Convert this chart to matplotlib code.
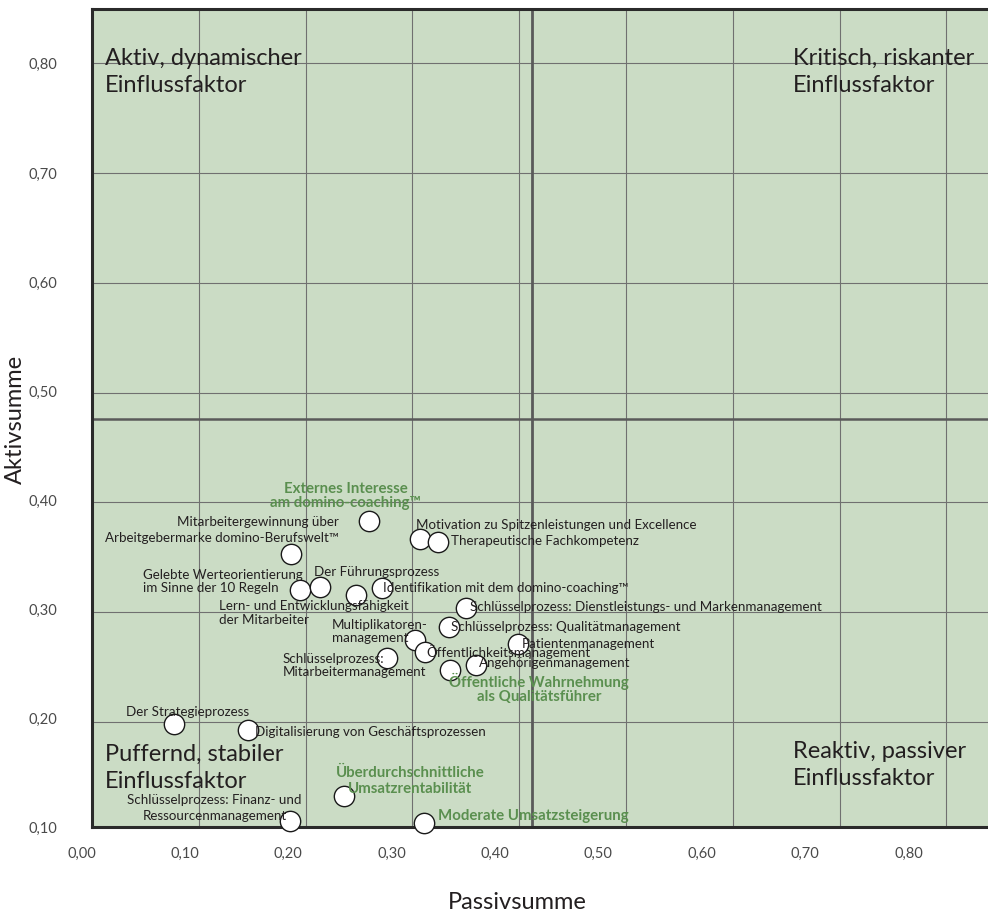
import numpy as np
import matplotlib
matplotlib.use("Agg")
import matplotlib.pyplot as plt

plt.rcParams['font.family'] = ['Lato', 'DejaVu Sans']

# ---------------- data ----------------
labels = [
    "Externes Interesse\nam domino-coaching™",
    "Mitarbeitergewinnung über\nArbeitgebermarke domino-Berufswelt™",
    "Motivation zu Spitzenleistungen und Excellence",
    "Therapeutische Fachkompetenz",
    "Gelebte Werteorientierung\nim Sinne der 10 Regeln",
    "Der Führungsprozess",
    "Identifikation mit dem domino-coaching™",
    "Lern- und Entwicklungsfähigkeit\nder Mitarbeiter",
    "Schlüsselprozess: Dienstleistungs- und Markenmanagement",
    "Schlüsselprozess: Qualitätmanagement",
    "Multiplikatoren-\nmanagement",
    "Öffentlichkeitsmanagement",
    "Patientenmanagement",
    "Angehörigenmanagement",
    "Öffentliche Wahrnehmung\nals Qualitätsführer",
    "Schlüsselprozess:\nMitarbeitermanagement",
    "Der Strategieprozess",
    "Digitalisierung von Geschäftsprozessen",
    "Überdurchschnittliche\nUmsatzrentabilität",
    "Schlüsselprozess: Finanz- und\nRessourcenmanagement",
    "Moderate Umsatzsteigerung",
]
passiv = [0.259, 0.186, 0.307, 0.324, 0.195, 0.2135, 0.272, 0.247, 0.350, 0.334,
          0.302, 0.312, 0.399, 0.360, 0.335, 0.276, 0.077, 0.146, 0.236, 0.185, 0.311]
aktiv = [0.383, 0.353, 0.367, 0.364, 0.320, 0.323, 0.322, 0.3155, 0.3036, 0.287,
         0.275, 0.264, 0.271, 0.252, 0.247, 0.258, 0.198, 0.193, 0.133, 0.110, 0.108]
is_goal = [True, False, False, False, False, False, False, False, False, False,
           False, False, False, False, True, False, False, False, True, False, True]

divider_x = 0.412
divider_y = 0.476

x_ticks = [0.0, 0.1, 0.2, 0.3, 0.4, 0.5, 0.6, 0.7, 0.8]
x_tick_labels = ["0,00", "0,10", "0,20", "0,30", "0,40", "0,50", "0,60", "0,70", "0,80"]
y_ticks = [0.1, 0.2, 0.3, 0.4, 0.5, 0.6, 0.7, 0.8]
y_tick_labels = ["0,10", "0,20", "0,30", "0,40", "0,50", "0,60", "0,70", "0,80"]

quadrant_labels = ["Aktiv, dynamischer\nEinflussfaktor", "Kritisch, riskanter\nEinflussfaktor",
                   "Puffernd, stabiler\nEinflussfaktor", "Reaktiv, passiver\nEinflussfaktor"]

# label placement (offset in pixels from the point, image y downwards), alignment, spacing
label_offsets = [(-23, -25), (48, -24), (-4, -14), (13, -1), (-157, -9), (-6, -15), (1, 0),
                 (-137, 18), (4, -1), (2, 0), (-83, -8), (1, 0), (4, 0), (2, -2), (89, 18),
                 (-104, 7), (-48, -12), (7, 2), (66, -15), (-75, -13), (14, -7)]
label_ha = ["center", "right", "left", "left", "left", "left", "left",
            "left", "left", "left", "left", "left", "left", "left", "center",
            "left", "left", "left", "center", "center", "left"]
label_ls = [0.95, 1.42, 1.0, 1.0, 1.06, 1.0, 1.0,
            1.2, 1.0, 1.0, 1.09, 1.0, 1.0, 1.0, 0.98,
            1.07, 1.0, 1.0, 1.15, 1.38, 1.0]

# ---------------- styling ----------------
W, H = 988, 915
BG = '#cbdcc5'
GREEN = '#5a8f4f'
TXT = '#231f20'
L, R, T, B = 92, 988, 9.3, 827.3

fig = plt.figure(figsize=(W / 100, H / 100), dpi=100)
ax = fig.add_axes([L / W, 1 - B / H, (R - L) / W, (B - T) / H])
ax.set_facecolor(BG)
ax.set_xlim(0, (R - L) / 1068)
ax.set_ylim(0.1042, 0.849)

ax.set_xticks(x_ticks)
ax.set_yticks(y_ticks[1:])
ax.tick_params(axis='both', length=0, labelbottom=False, labelleft=False)
ax.grid(True, color='#707070', lw=0.8)
ax.set_axisbelow(True)

for s in ['left', 'bottom', 'top']:
    ax.spines[s].set_linewidth(2.2)
    ax.spines[s].set_color('#2a2a2a')
ax.spines['right'].set_visible(False)

ax.axvline(divider_x, color='#5a5a5a', lw=2.0, zorder=1.5)
ax.axhline(divider_y, color='#5a5a5a', lw=1.8, zorder=1.5)

ax.scatter(passiv, aktiv, s=215, facecolor='white', edgecolor='#1a1a1a',
           linewidths=1.0, zorder=3, clip_on=False)

for lab, x, y, (dx, dy), ha, ls, goal in zip(labels, passiv, aktiv, label_offsets,
                                             label_ha, label_ls, is_goal):
    ax.annotate(lab, (x, y), xytext=(dx, -dy), textcoords='offset pixels',
                ha=ha, va='center', multialignment=ha,
                fontsize=10.8 if goal else 9.6, linespacing=ls,
                color=GREEN if goal else TXT,
                fontweight='bold' if goal else 'normal', zorder=4)

# quadrant labels (axes fraction, baseline of the last line)
qpos = [((105 - L) / (R - L), 1 - (92 - T) / (B - T)),
        ((793 - L) / (R - L), 1 - (92 - T) / (B - T)),
        ((105 - L) / (R - L), 1 - (788 - T) / (B - T)),
        ((793 - L) / (R - L), 1 - (785 - T) / (B - T))]
for q, (qx, qy) in zip(quadrant_labels, qpos):
    ax.text(qx, qy, q, transform=ax.transAxes, ha='left', va='baseline',
            fontsize=17, color=TXT, linespacing=1.38, zorder=4)

# tick labels on an overlay axis
x0 = 81.6
ax2 = fig.add_axes([x0 / W, 1 - B / H, (R - x0) / W, (B - T) / H])
ax2.patch.set_visible(False)
for s in ax2.spines.values():
    s.set_visible(False)
ax2.set_xlim(0, (R - x0) / 1033.5)
ax2.set_ylim(0.1, 0.85)
ax2.set_xticks(x_ticks)
ax2.set_xticklabels(x_tick_labels)
ax2.set_yticks(y_ticks)
ax2.set_yticklabels(y_tick_labels)
ax2.tick_params(axis='x', length=0, pad=14, labelsize=10.5, labelcolor='#4a4a4a')
ax2.tick_params(axis='y', length=0, pad=10 + (L - x0) * 0.72, labelsize=10.5,
                labelcolor='#4a4a4a')

fig.text(15 / W, 1 - 419 / H, "Aktivsumme", rotation=90, ha='center', va='center',
         fontsize=17, color=TXT)
fig.text(517 / W, 1 - 909 / H, "Passivsumme", ha='center', va='baseline',
         fontsize=17, color=TXT)

fig.savefig("out.png", dpi=100, facecolor='white')
